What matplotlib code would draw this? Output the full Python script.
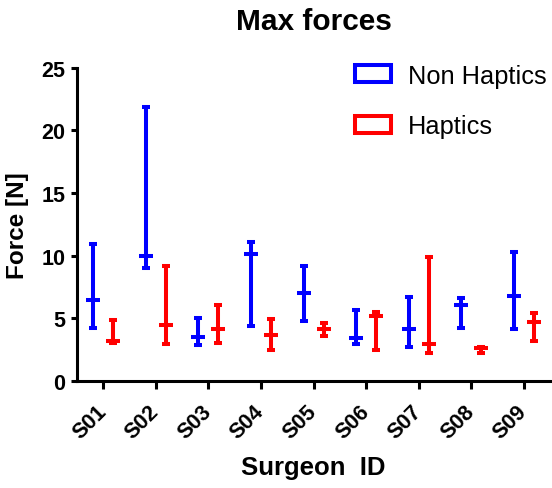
import numpy as np
import matplotlib
matplotlib.use("Agg")
import matplotlib.pyplot as plt
from matplotlib.patches import Patch

plt.rcParams['font.family'] = ['Liberation Sans', 'DejaVu Sans']

# ================= DATA =================
surgeons = ["S01", "S02", "S03", "S04", "S05", "S06", "S07", "S08", "S09"]

non_min = [4.2, 9.0, 2.9, 4.37, 4.8, 2.93, 2.72, 4.26, 4.15]
non_max = [10.9, 21.9, 5.0, 11.1, 9.2, 5.65, 6.7, 6.6, 10.3]
non_mean = [6.5, 10.0, 3.55, 10.1, 7.0, 3.46, 4.15, 6.07, 6.81]

hap_min = [3.05, 2.95, 3.0, 2.48, 3.62, 2.48, 2.24, 2.24, 3.2]
hap_max = [4.85, 9.2, 6.07, 4.95, 4.6, 5.48, 9.88, 2.72, 5.43]
hap_mean = [3.2, 4.47, 4.15, 3.7, 4.15, 5.17, 2.95, 2.66, 4.74]

# ================= FIGURE =================
fig = plt.figure(figsize=(5.52, 4.89), dpi=100)
ax = fig.add_axes([0.1395, 0.2188, 0.857, 0.6406])

x = np.arange(len(surgeons))
offset = 0.19

def floating(xpos, lo, hi, mid, color):
    mid = np.array(mid)
    err = [mid - np.array(lo), np.array(hi) - mid]
    ax.errorbar(xpos, mid, yerr=err, fmt='_', color=color,
                markersize=9.5, markeredgewidth=2.9,
                elinewidth=2.9, capsize=2.7, capthick=2.9, zorder=3)

floating(x - offset, non_min, non_max, non_mean, "#0000ff")
floating(x + offset, hap_min, hap_max, hap_mean, "#ff0000")

# ================= AXES =================
ax.set_xlim(-0.5, 8.5)
ax.set_ylim(0, 25)
ax.set_yticks([0, 5, 10, 15, 20, 25])
ax.set_xticks(x)
ax.set_xticklabels(surgeons, rotation=45, ha='right', va='center',
                   rotation_mode='anchor', fontsize=15.5, fontweight='bold')
for lab in ax.get_yticklabels():
    lab.set_fontsize(15.5)
    lab.set_fontweight('bold')

for side in ['top', 'right']:
    ax.spines[side].set_visible(False)
for side in ['left', 'bottom']:
    ax.spines[side].set_linewidth(2.2)
ax.tick_params(axis='y', length=4.5, width=2.2, pad=4)
ax.tick_params(axis='x', length=6, width=2.2, pad=13.5)

ax.set_title("Max forces", fontsize=21.5, fontweight='bold', pad=28)
ax.set_xlabel("Surgeon  ID", fontsize=18.5, fontweight='bold')
ax.xaxis.set_label_coords(0.5, -0.275)
ax.xaxis.label.set_va('center')
ax.set_ylabel("Force [N]", fontsize=17.5, fontweight='bold')
ax.yaxis.set_label_coords(-0.125, 0.5)
ax.yaxis.label.set_va('center')

# ================= LEGEND =================
handles = [Patch(facecolor='white', edgecolor='#0000ff', linewidth=2.9, joinstyle='round'),
           Patch(facecolor='white', edgecolor='#ff0000', linewidth=2.9, joinstyle='round')]
fig.legend(handles, ["Non Haptics", "Haptics"], loc='upper left',
           bbox_to_anchor=(0.643, 0.868), frameon=False, fontsize=18.3,
           borderpad=0, borderaxespad=0, handlelength=1.4, handleheight=0.65,
           handletextpad=0.7, labelspacing=1.05)

fig.savefig("out.png", dpi=100)
